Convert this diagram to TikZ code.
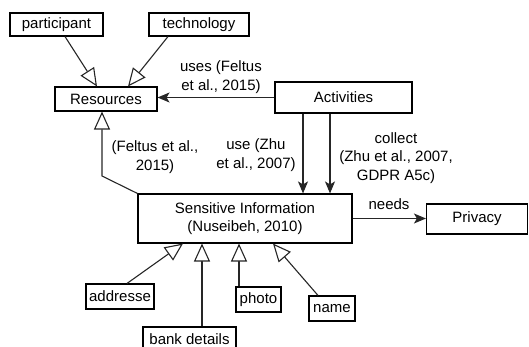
\documentclass[tikz,border=0pt]{standalone}
\usepackage{fontspec}
\setmainfont{Liberation Sans}
\usetikzlibrary{arrows.meta}
\begin{document}
\begin{tikzpicture}[x=1pt,y=-1pt,
  box/.style={draw=black, line width=1.1pt, inner sep=0pt, align=center, font=\fontsize{15}{18.5}\selectfont},
  lbl/.style={inner sep=0pt, align=center, font=\fontsize{15}{18.5}\selectfont},
  conn/.style={draw=black!85, line width=1.1pt},
  isa/.style={conn, -{Triangle[length=18pt, width=16pt, fill=white, line width=1.1pt]}},
  rel/.style={conn, -{Stealth[length=12pt, width=10pt, inset=3pt]}}
]
\useasboundingbox (0,0) rectangle (529,347);
\clip (0,0) rectangle (529,347);
\node[box, minimum width=93pt, minimum height=23pt] (part) at (56.5,24.5) {participant};
\node[box, minimum width=100pt, minimum height=23pt] (tech) at (199,24.5) {technology};
\node[box, minimum width=102pt, minimum height=24pt] (res) at (106,99) {Resources};
\node[box, minimum width=137pt, minimum height=31pt] (act) at (343.5,97.5) {Activities};
\node[box, minimum width=214pt, minimum height=49pt] (si) at (245,218.5) {Sensitive Information\\(Nuseibeh, 2010)};
\node[box, minimum width=101pt, minimum height=30pt] (priv) at (477,219) {Privacy};
\node[box, minimum width=68pt, minimum height=25pt] (addr) at (120,296.5) {addresse};
\node[box, minimum width=93pt, minimum height=25pt] (bank) at (189.5,339.5) {bank details};
\node[box, minimum width=45pt, minimum height=25pt] (photo) at (258.5,299.5) {photo};
\node[box, minimum width=46pt, minimum height=25pt] (name) at (332,308.5) {name};

\node[lbl] (l1) at (221,77) {uses (Feltus\\et al., 2015)};
\node[lbl] (l2) at (155,157) {(Feltus et al.,\\2015)};
\node[lbl] (l3) at (256,155) {use (Zhu\\et al., 2007)};
\node[lbl] (l4) at (396,158) {collect\\(Zhu et al., 2007,\\GDPR A5c)};
\node[lbl] (l5) at (389,204) {needs};

\draw[isa] ([xshift=8.5pt]part.south) -- ([xshift=-9pt]res.north);
\draw[isa] ([xshift=-31pt]tech.south) -- ([xshift=22pt]res.north);
\draw[rel] (act.west) -- (act.west -| res.east);
\draw[rel] ([xshift=-40.5pt]act.south) -- ([xshift=-40.5pt]act.south |- si.north);
\draw[rel] ([xshift=-13.5pt]act.south) -- ([xshift=-13.5pt]act.south |- si.north);
\coordinate (bend) at (102,176);
\draw[isa] (si.north west) -- (bend) -- (bend |- res.south);
\draw[rel] (si.east) -- (si.east -| priv.west);
\draw[isa] ([xshift=7pt]addr.north) -- ([xshift=-62pt]si.south);
\draw[isa] ([xshift=12.5pt]bank.north) -- ([xshift=12.5pt]bank.north |- si.south);
\draw[isa] ([xshift=-19.5pt]photo.north) -- ([xshift=-19.5pt]photo.north |- si.south);
\draw[isa] ([xshift=-14pt]name.north) -- ([xshift=28pt]si.south);
\end{tikzpicture}
\end{document}
